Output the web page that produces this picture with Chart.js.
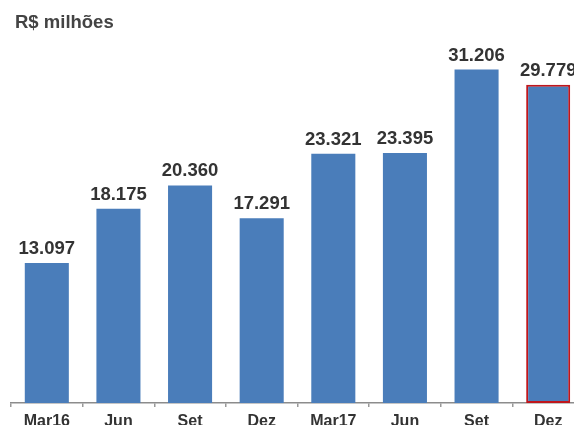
<!DOCTYPE html>
<html>
<head>
<meta charset="utf-8">
<script src="https://cdn.jsdelivr.net/npm/chart.js@4"></script>
<style>
html,body{margin:0;padding:0;background:#fff;overflow:hidden;width:574px;height:425px;}
#wrap{position:absolute;left:0;top:0;width:590px;height:425px;}
</style>
</head>
<body>
<div id="wrap"><canvas id="c" width="590" height="425"></canvas></div>
<script>
const categories = ["Mar16","Jun","Set","Dez","Mar17","Jun","Set","Dez"];
const values = [13097,18175,20360,17291,23321,23395,31206,29779];
const valueLabels = ["13.097","18.175","20.360","17.291","23.321","23.395","31.206","29.779"];
const unitTitle = "R$ milhões";

const FONT = "'Liberation Sans', Arial, sans-serif";
const barColors = values.map(() => '#4a7dba');
const borderColors = values.map((v,i) => i === values.length-1 ? '#c0161c' : '#4a7dba');
const borderWidths = values.map((v,i) => i === values.length-1 ? 2 : 0);

const labelPlugin = {
  id: 'labels',
  afterDatasetsDraw(chart) {
    const ctx = chart.ctx;
    const meta = chart.getDatasetMeta(0);
    ctx.save();
    ctx.font = "bold 18.5px " + FONT;
    ctx.fillStyle = '#333333';
    ctx.textAlign = 'center';
    ctx.textBaseline = 'alphabetic';
    meta.data.forEach((bar, i) => {
      ctx.fillText(valueLabels[i], bar.x, bar.y - 9);
    });
    ctx.font = "bold 18.5px " + FONT;
    ctx.fillStyle = '#444444';
    ctx.textAlign = 'left';
    ctx.fillText(unitTitle, 15, 28);
    ctx.restore();
  }
};

new Chart(document.getElementById('c'), {
  type: 'bar',
  data: {
    labels: categories,
    datasets: [{
      data: values,
      backgroundColor: barColors,
      borderColor: borderColors,
      borderWidth: borderWidths,
      borderSkipped: false,
      categoryPercentage: 1,
      barPercentage: 0.615
    }]
  },
  options: {
    responsive: false,
    animation: false,
    layout: { padding: { left: 11, right: 6, top: 29, bottom: 0 } },
    plugins: { legend: { display: false }, tooltip: { enabled: false } },
    scales: {
      x: {
        offset: true,
        afterFit(scale) { scale.height = 22; },
        grid: { display: true, drawOnChartArea: false, drawTicks: true, tickLength: 4, offset: true, color: '#999999', lineWidth: 1.5 },
        border: { display: true, color: '#8c8c8c', width: 1.5 },
        ticks: { color: '#333333', font: { family: FONT, size: 16, weight: 'bold' }, padding: 5, maxRotation: 0, autoSkip: false }
      },
      y: {
        display: false,
        min: 0,
        max: 35000
      }
    }
  },
  plugins: [labelPlugin]
});
</script>
</body>
</html>
